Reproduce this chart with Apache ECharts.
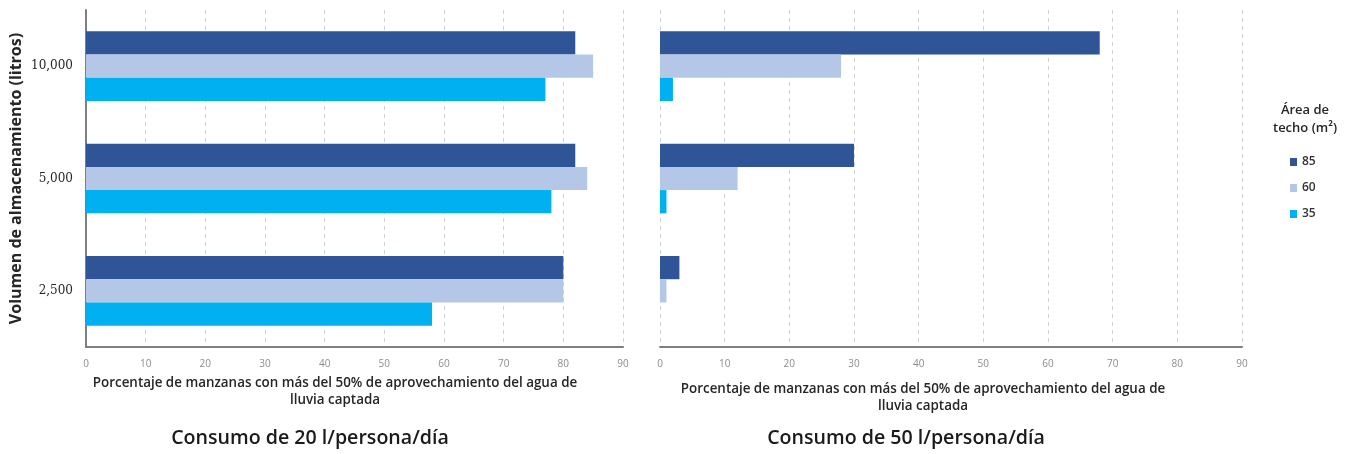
<!DOCTYPE html>
<html><head><meta charset="utf-8">
<script src="https://cdn.jsdelivr.net/npm/echarts@6/dist/echarts.min.js"></script>
<style>html,body{margin:0;padding:0;background:#fff}#c{width:1346px;height:454px}</style>
</head><body><div id="c"></div>
<script>
const categories = ['10,000', '5,000', '2,500'];
const seriesNames = ['85', '60', '35'];
const colors = ['#2F5597', '#B4C7E7', '#00B0F0'];
// Consumo de 20 l/persona/día
const left85 = [82, 82, 80];
const left60 = [85, 84, 80];
const left35 = [77, 78, 58];
// Consumo de 50 l/persona/día
const right85 = [68, 30, 3];
const right60 = [28, 12, 1];
const right35 = [2, 1, 0];
const xTicks = [0, 10, 20, 30, 40, 50, 60, 70, 80, 90];

const FONT = '"Open Sans", Lato, sans-serif';
const chart = echarts.init(document.getElementById('c'));

function xAx(gi) {
  return {
    type: 'value', gridIndex: gi, min: xTicks[0], max: xTicks[xTicks.length - 1], interval: 10,
    axisLine: { show: true, lineStyle: { color: '#7f7f7f', width: 2 } },
    axisTick: { show: false },
    axisLabel: { color: '#8c8c8c', fontSize: 10, fontFamily: FONT, margin: 12 },
    splitLine: { show: true, lineStyle: { color: '#d0d0d0', type: [4, 4], width: 1 } }
  };
}
function yAx(gi, showLabels) {
  return {
    type: 'category', gridIndex: gi, data: categories, inverse: true,
    axisLine: { show: showLabels, lineStyle: { color: '#7f7f7f', width: 2 } },
    axisTick: { show: false },
    axisLabel: { show: showLabels, color: '#262626', fontSize: 12, fontFamily: '"DejaVu Serif", serif', margin: 13 },
    name: showLabels ? 'Volumen de almacenamiento (litros)' : '',
    nameLocation: 'middle', nameGap: 62, nameRotate: 90,
    nameTextStyle: { color: '#262626', fontSize: 16, fontWeight: 'bold', fontFamily: FONT }
  };
}
function bar(name, data, i, gi) {
  return {
    type: 'bar', name: name, data: data, xAxisIndex: gi, yAxisIndex: gi,
    itemStyle: { color: colors[i] }, barGap: '0%', barCategoryGap: '38%'
  };
}
const axisTitle = 'Porcentaje de manzanas con más del 50% de aprovechamiento del agua de\nlluvia captada';

chart.setOption({
  animation: false,
  textStyle: { fontFamily: FONT },
  grid: [
    { left: 86, right: 723, top: 10, bottom: 107 },
    { left: 660, right: 104, top: 10, bottom: 107 }
  ],
  xAxis: [xAx(0), xAx(1)],
  yAxis: [yAx(0, true), yAx(1, false)],
  legend: {
    data: seriesNames, orient: 'vertical', left: 1290, top: 155, padding: 0,
    itemWidth: 7, itemHeight: 8, itemGap: 12, icon: 'rect',
    textStyle: { color: '#333333', fontSize: 12, fontWeight: 600, fontFamily: FONT, lineHeight: 14, padding: [0, 0, 0, 0] }
  },
  title: [
    { text: axisTitle, left: 335, top: 375, textAlign: 'center', padding: 0,
      textStyle: { fontSize: 13.4, fontWeight: 600, color: '#262626', lineHeight: 17, fontFamily: FONT } },
    { text: axisTitle, left: 923, top: 381, textAlign: 'center', padding: 0,
      textStyle: { fontSize: 13.4, fontWeight: 600, color: '#262626', lineHeight: 17, fontFamily: FONT } },
    { text: 'Consumo de 20 l/persona/día', left: 310, top: 428, textAlign: 'center', padding: 0,
      textStyle: { fontSize: 19.6, fontWeight: 600, color: '#1a1a1a', fontFamily: FONT } },
    { text: 'Consumo de 50 l/persona/día', left: 906, top: 428, textAlign: 'center', padding: 0,
      textStyle: { fontSize: 19.6, fontWeight: 600, color: '#1a1a1a', fontFamily: FONT } },
    { text: 'Área de\ntecho (m²)', left: 1305, top: 101, textAlign: 'center', padding: 0,
      textStyle: { fontSize: 13, fontWeight: 600, color: '#262626', lineHeight: 18, fontFamily: FONT } }
  ],
  series: [
    bar(seriesNames[0], left85, 0, 0),
    bar(seriesNames[1], left60, 1, 0),
    bar(seriesNames[2], left35, 2, 0),
    bar(seriesNames[0], right85, 0, 1),
    bar(seriesNames[1], right60, 1, 1),
    bar(seriesNames[2], right35, 2, 1)
  ]
});
</script></body></html>
